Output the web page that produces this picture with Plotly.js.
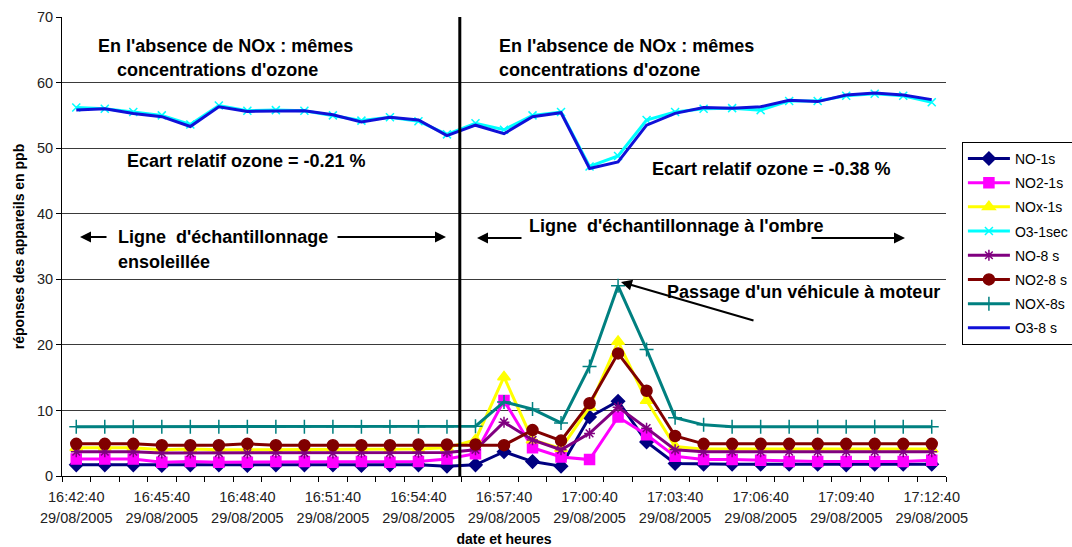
<!DOCTYPE html>
<html><head><meta charset="utf-8">
<script src="https://cdn.plot.ly/plotly-3.0.1.min.js"></script>
<style>html,body{margin:0;padding:0;background:#fff}#chart{width:1072px;height:547px}</style>
</head><body><div id="chart"></div>
<script>
const day = "2005-08-29";
const dateLabel = "29/08/2005";
const times = ["16:42:40","16:43:40","16:44:40","16:45:40","16:46:40","16:47:40","16:48:40","16:49:40","16:50:40","16:51:40",
  "16:52:40","16:53:40","16:54:40","16:55:40","16:56:40","16:57:40","16:58:40","16:59:40","17:00:40","17:01:40",
  "17:02:40","17:03:40","17:04:40","17:05:40","17:06:40","17:07:40","17:08:40","17:09:40","17:10:40","17:11:40","17:12:40"];
const tickTimes = ["16:42:40","16:45:40","16:48:40","16:51:40","16:54:40","16:57:40","17:00:40","17:03:40","17:06:40","17:09:40","17:12:40"];

const no_1s   = [1.7,1.7,1.7,1.6,1.7,1.7,1.6,1.7,1.7,1.7,1.6,1.7,1.7,1.5, 1.7,3.7,2.2,1.5,9.0,11.4,5.2,1.9, 1.8,1.8,1.8,1.8,1.8,1.7,1.8,1.8,1.8];
const no2_1s  = [2.6,2.6,2.6,2.1,2.2,2.1,2.1,2.2,2.2,2.1,2.2,2.1,2.2,2.6, 3.4,11.5,4.3,2.9,2.5,9.0,6.3,3.0, 2.5,2.5,2.4,2.2,2.2,2.2,2.2,2.2,2.4];
const nox_1s  = [4.3,4.3,4.3,4.0,4.1,4.0,4.0,4.1,4.1,4.0,4.1,4.0,4.1,4.3, 5.5,15.1,5.5,4.2,10.5,20.5,11.5,4.5, 4.1,4.1,4.1,4.1,4.1,4.1,4.1,4.1,4.1];
const o3_1sec = [56.2,56.0,55.5,55.0,53.6,56.5,55.7,55.8,55.7,55.0,54.2,54.7,54.1,52.1, 53.8,52.8,55.0,55.5,47.2,48.8,54.3,55.5, 56.0,56.1,55.8,57.2,57.2,58.0,58.3,58.0,57.0];
const no_8s   = [3.7,3.7,3.7,3.5,3.5,3.5,3.5,3.6,3.5,3.5,3.6,3.5,3.6,3.6, 4.0,8.2,5.5,4.0,6.5,10.5,7.3,4.0, 3.7,3.7,3.7,3.7,3.7,3.7,3.7,3.7,3.7];
const no2_8s  = [4.9,4.9,4.9,4.7,4.7,4.7,4.9,4.7,4.7,4.7,4.7,4.7,4.8,4.8, 4.8,4.7,7.0,5.4,11.1,18.7,13.0,6.1, 4.9,4.9,4.9,4.9,4.9,4.9,4.9,4.9,4.9];
const nox_8s  = [7.5,7.5,7.5,7.5,7.5,7.5,7.5,7.5,7.5,7.5,7.5,7.5,7.5,7.5, 7.6,11.3,10.2,8.1,16.7,29.0,19.3,8.9, 7.8,7.5,7.5,7.5,7.5,7.5,7.5,7.5,7.5];
const o3_8s   = [55.8,56.0,55.3,54.8,53.3,56.3,55.6,55.7,55.7,55.1,54.0,54.7,54.3,51.9, 53.5,52.2,54.8,55.4,46.9,47.9,53.5,55.3, 56.2,56.1,56.3,57.3,57.1,58.1,58.4,58.1,57.4];

const FONT = "'Liberation Sans', Arial, sans-serif";
const xs = times.map(t => day + " " + t);
const tickVals = tickTimes.map(t => day + " " + t);

const series = [
  {name:"NO-1s",   y:no_1s,   color:"#000080", symbol:"diamond", size:10},
  {name:"NO2-1s",  y:no2_1s,  color:"#FF00FF", symbol:"square", size:10},
  {name:"NOx-1s",  y:nox_1s,  color:"#FFFF00", symbol:"triangle-up", size:11},
  {name:"O3-1sec", y:o3_1sec, color:"#00FFFF", symbol:"x-thin-open", size:8},
  {name:"NO-8 s",  y:no_8s,   color:"#800080", symbol:"asterisk-open", size:9},
  {name:"NO2-8 s", y:no2_8s,  color:"#800000", symbol:"circle", size:11},
  {name:"NOX-8s",  y:nox_8s,  color:"#008080", symbol:"cross-thin-open", size:10},
  {name:"O3-8 s",  y:o3_8s,   color:"#1010D8", symbol:null, size:0, axis:"x2"}
];

const traces = series.map((s,i) => {
  const t = {
    type:"scatter", x:xs, y:s.y, name:s.name, legendgroup:"g"+i,
    mode: s.symbol ? "lines+markers" : "lines",
    line:{color:s.color, width:3}
  };
  if (s.axis) t.xaxis = s.axis;
  if (s.symbol) t.marker = {symbol:s.symbol, size:s.size, color:s.color, line:{color:s.color, width:1.5}};
  return t;
});

const L=62, R=946, T=17, B=476;
const px = x => (x-L)/(R-L);
const py = y => (B-y)/(B-T);

function txt(text, x, y){
  return {text, xref:"paper", yref:"paper", x:px(x), y:py(y), xanchor:"left", yanchor:"middle",
    showarrow:false, font:{family:FONT, size:18, color:"#000", weight:"bold"}};
}
function arr(hx, hy, tx, ty){
  return {text:"", xref:"paper", yref:"paper", x:px(hx), y:py(hy), ax:tx-hx, ay:ty-hy,
    showarrow:true, arrowhead:2, arrowsize:1.1, arrowwidth:2, arrowcolor:"#000"};
}

const annotations = [
  txt("En l'absence de NOx : mêmes", 96, 46),
  txt("concentrations d'ozone", 115, 70),
  txt("En l'absence de NOx : mêmes", 497, 46),
  txt("concentrations d'ozone", 497, 70),
  txt("Ecart relatif ozone = -0.21 %", 125, 161),
  txt("Ecart relatif ozone = -0.38 %", 650, 169),
  txt("Ligne \u00a0d'échantillonnage", 116, 237),
  txt("ensoleillée", 116, 262),
  txt("Ligne \u00a0d'échantillonnage à l'ombre", 527, 226),
  txt("Passage d'un véhicule à moteur", 665, 292),
  arr(80,237,108,237),
  arr(446,237,336,237),
  arr(477,238,523,238),
  arr(905,238,810,238),
  arr(621,282,755,321)
];

const layout = {
  width:1072, height:547,
  margin:{l:L, r:1072-R, t:T, b:547-B, autoexpand:false},
  paper_bgcolor:"#fff", plot_bgcolor:"#fff",
  font:{family:FONT, color:"#000"},
  showlegend:true,
  legend:{x:1.018, xanchor:"left", y:0.728, yanchor:"top", bgcolor:"#fff", bordercolor:"#000", borderwidth:1,
    font:{family:FONT, size:14, color:"#000"}, traceorder:"grouped", tracegroupgap:3, itemwidth:42},
  xaxis:{type:"date", automargin:false, range:[day+" 16:42:10", day+" 17:13:10"], tickmode:"array", tickvals:tickVals, ticktext:tickTimes,
    ticks:"", showgrid:false, zeroline:false, showline:true, linecolor:"#000", linewidth:1,
    tickfont:{family:FONT, size:14.5, color:"#222"}, ticklabelstandoff:8,
    minor:{ticks:"outside", ticklen:5, tickcolor:"#000", tick0:day+" 16:42:10", dtick:60000, showgrid:false},
    title:{text:"date et heures", font:{family:FONT, size:14, weight:"bold", color:"#000"}, standoff:31}},
  xaxis2:{type:"date", automargin:false, overlaying:"x", matches:"x", anchor:"y", side:"bottom", tickmode:"array", tickvals:tickVals,
    ticktext:tickVals.map(() => dateLabel), ticks:"", showgrid:false, zeroline:false, showline:false,
    tickfont:{family:FONT, size:14.5, color:"#222"}, ticklabelstandoff:31},
  yaxis:{range:[0,70], automargin:false, dtick:10, ticks:"outside", ticklen:5, tickcolor:"#000", showline:true, linecolor:"#000", linewidth:1,
    showgrid:true, gridcolor:"#3a3a3a", gridwidth:1, zeroline:false,
    tickfont:{family:FONT, size:14.5, color:"#222"},
    title:{text:"réponses des appareils en ppb", font:{family:FONT, size:14, weight:"bold", color:"#000"}, standoff:9}},
  shapes:[{type:"line", xref:"x", yref:"paper", x0:day+" 16:56:07", x1:day+" 16:56:07", y0:0, y1:1, layer:"above", line:{color:"#000", width:3}}],
  annotations
};

Plotly.newPlot("chart", traces, layout, {staticPlot:true, displayModeBar:false});
</script></body></html>
